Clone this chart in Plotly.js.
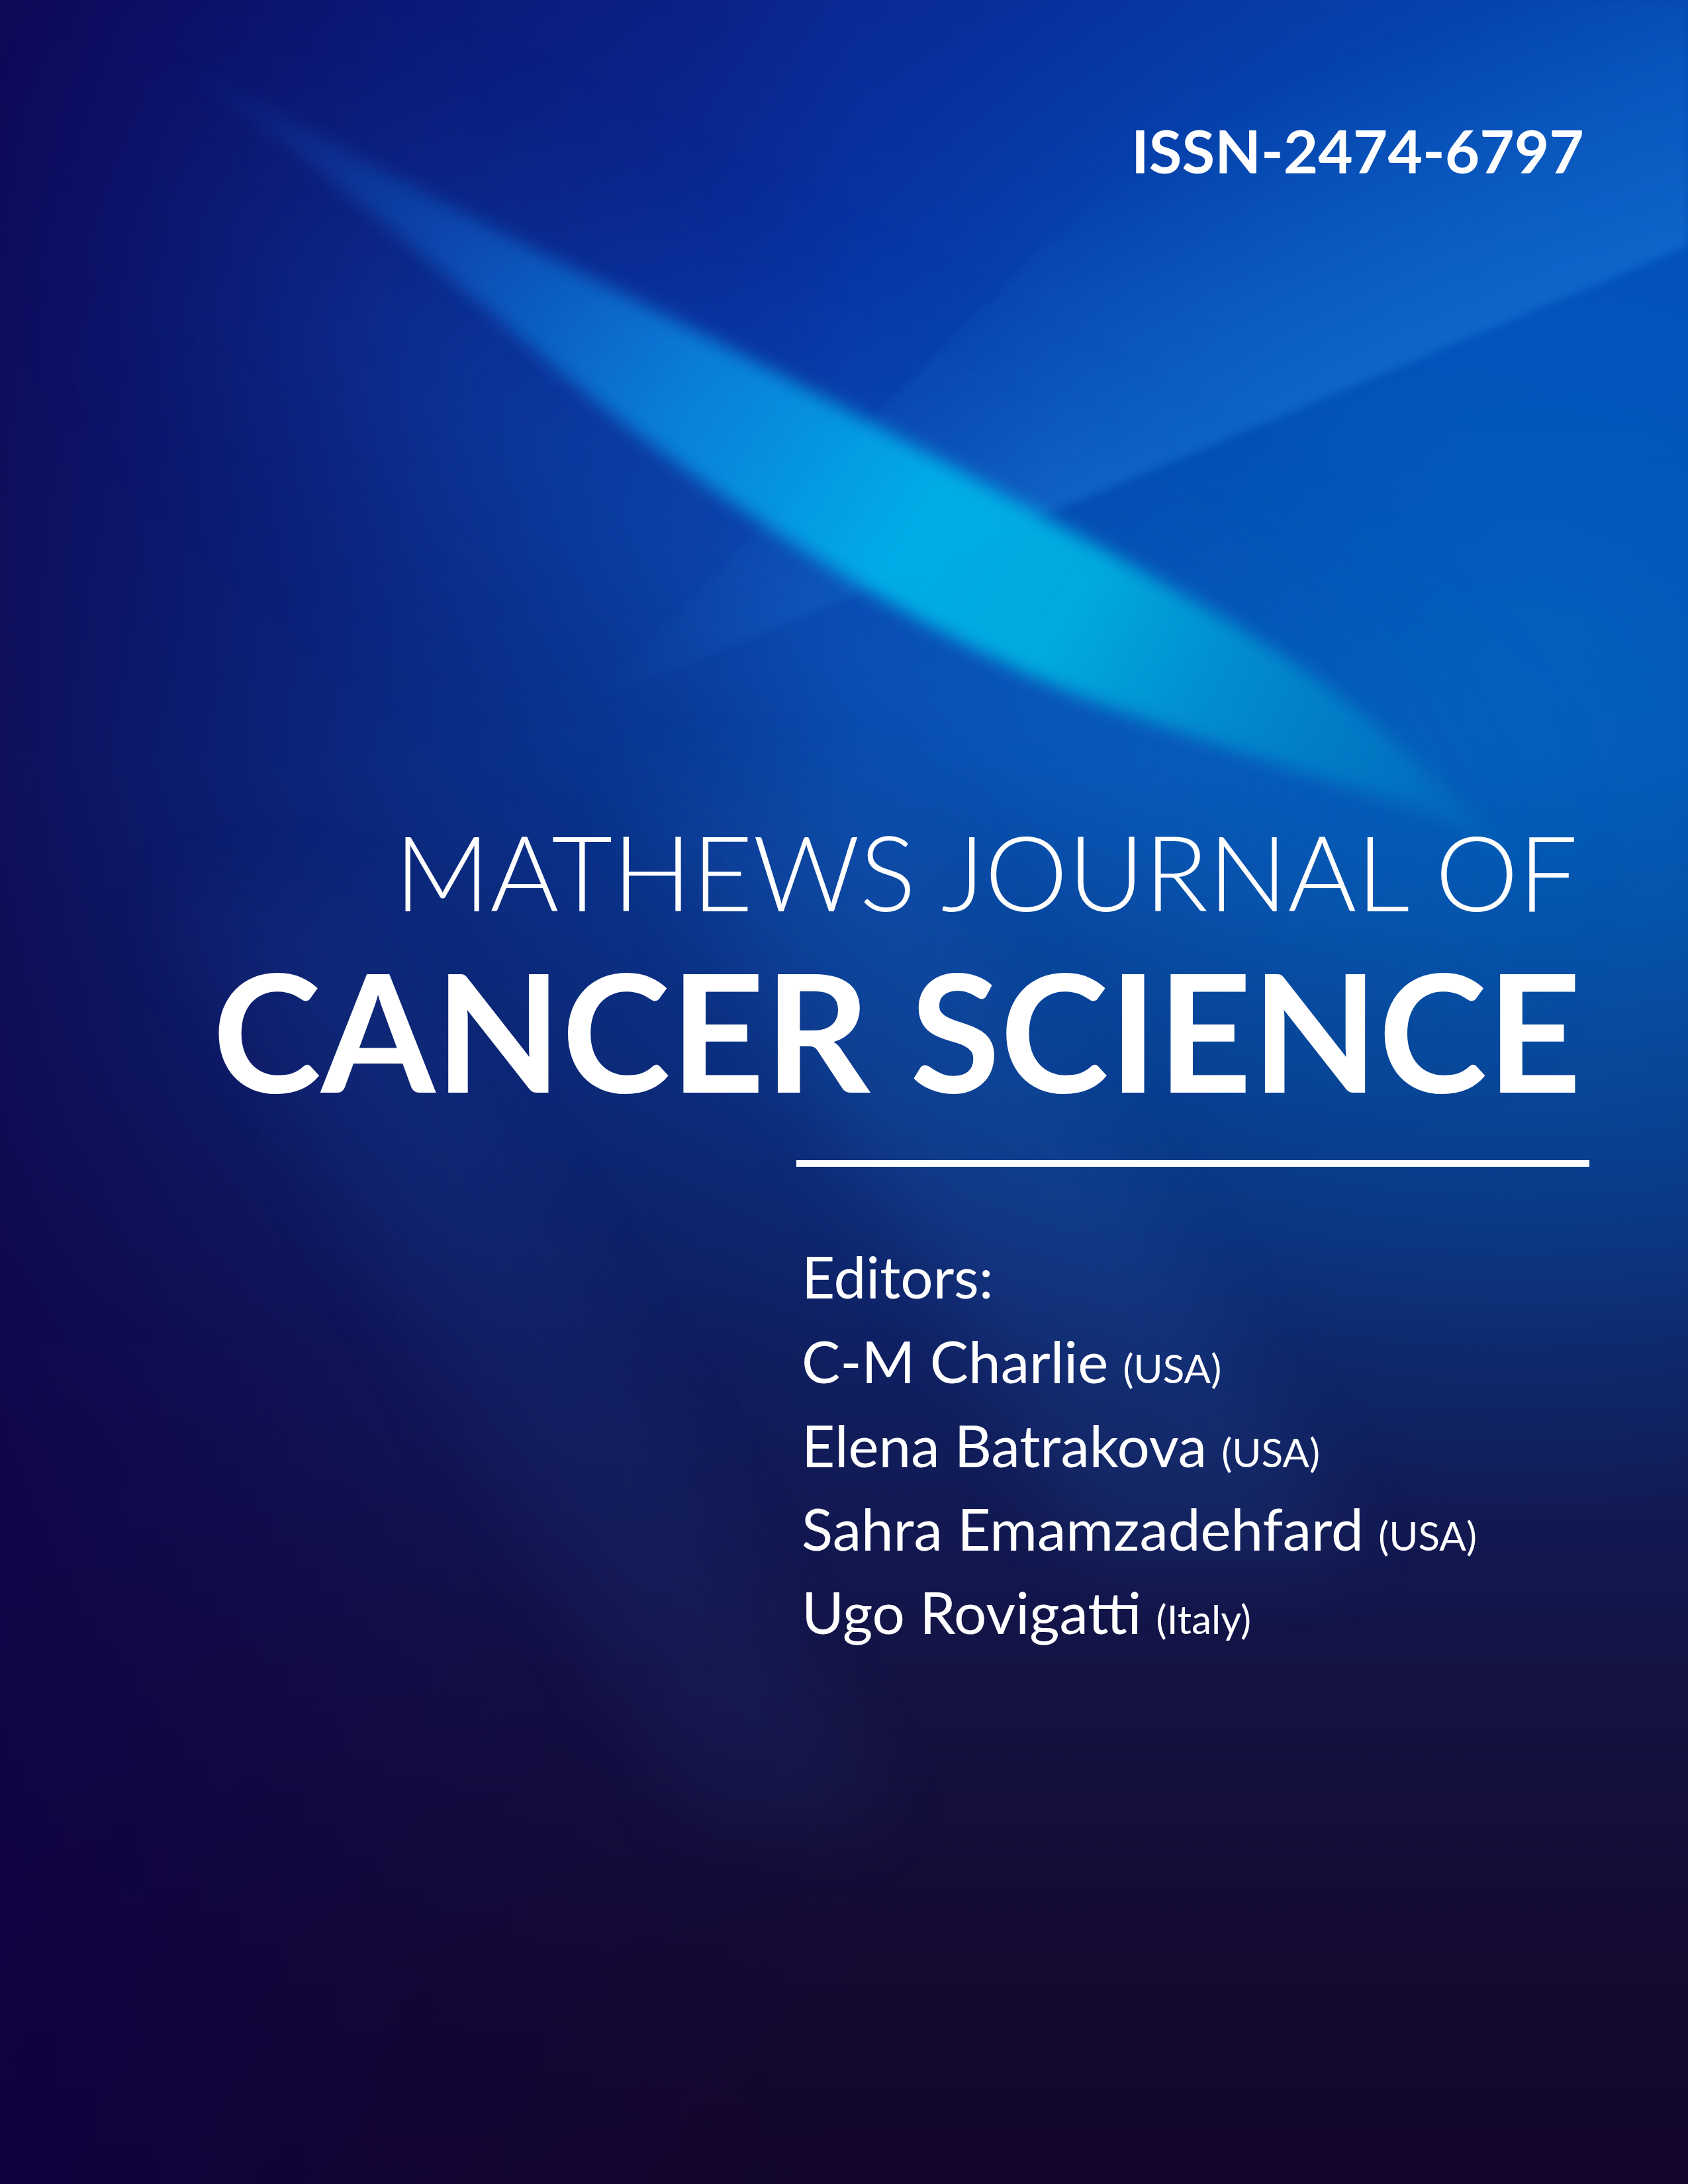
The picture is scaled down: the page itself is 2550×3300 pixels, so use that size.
<!DOCTYPE html>
<html>
<head>
<meta charset="utf-8">
<script src="https://cdn.plot.ly/plotly-3.0.1.min.js"></script>
<style>
  html, body { margin: 0; padding: 0; background: #14062a; }
  #cover { width: 2550px; height: 3300px; }
</style>
</head>
<body>
<div id="cover"></div>
<script>
// cover texts
const issnText = 'ISSN-2474-6797';
const titleLines = ['MATHEWS JOURNAL OF', 'CANCER SCIENCE'];
const editorsLabel = 'Editors:';
const editorNames = ['C-M Charlie', 'Elena Batrakova', 'Sahra Emamzadehfard', 'Ugo Rovigatti'];
const editorCountries = ['(USA)', '(USA)', '(USA)', '(Italy)'];

const W = 2550, H = 3300;
const FONT = 'Lato';

// paper coords from page pixels
const px = x => x / W;
const py = y => 1 - y / H;

/**
 * Font size that makes the text span the given pixel width
 */
function fitSize(text, weight, width) {
    const c = document.createElement('canvas').getContext('2d');
    c.font = `${weight} 100px ${FONT}`;
    return 100 * width / c.measureText(text).width;
}

// smooth path through a list of points
function smoothPath(g, pts) {
    g.lineTo(pts[0][0], pts[0][1]);
    for (let i = 1; i < pts.length - 1; i++) {
        const mx = (pts[i][0] + pts[i + 1][0]) / 2;
        const my = (pts[i][1] + pts[i + 1][1]) / 2;
        g.quadraticCurveTo(pts[i][0], pts[i][1], mx, my);
    }
    const last = pts[pts.length - 1];
    g.lineTo(last[0], last[1]);
}

/**
 * Soft blue background painted on a canvas, used as a layout image
 */
function paintBackground() {
    const s = 0.5;
    const cv = document.createElement('canvas');
    cv.width = W * s; cv.height = H * s;
    const g = cv.getContext('2d');
    g.scale(s, s);

    let lg = g.createLinearGradient(0, 0, 0, H);
    lg.addColorStop(0, '#0a2590');
    lg.addColorStop(0.15, '#0834a4');
    lg.addColorStop(0.35, '#0840a0');
    lg.addColorStop(0.5, '#0b3282');
    lg.addColorStop(0.62, '#102062');
    lg.addColorStop(0.76, '#141445');
    lg.addColorStop(0.9, '#150a32');
    lg.addColorStop(1, '#14062a');
    g.fillStyle = lg;
    g.fillRect(0, 0, W, H);

    // brighter top right
    let rg = g.createRadialGradient(2550, 100, 0, 2550, 100, 1500);
    rg.addColorStop(0, 'rgba(0,95,205,0.55)');
    rg.addColorStop(1, 'rgba(0,95,205,0)');
    g.fillStyle = rg;
    g.fillRect(0, 0, W, H);

    // teal glow on the right middle
    rg = g.createRadialGradient(2300, 1050, 0, 2300, 1050, 1250);
    rg.addColorStop(0, 'rgba(0,120,205,0.55)');
    rg.addColorStop(1, 'rgba(0,120,205,0)');
    g.fillStyle = rg;
    g.fillRect(0, 0, W, H);

    // darker left side
    lg = g.createLinearGradient(0, 0, 1300, 0);
    lg.addColorStop(0, 'rgba(16,0,70,0.75)');
    lg.addColorStop(0.5, 'rgba(16,0,70,0.3)');
    lg.addColorStop(1, 'rgba(16,0,70,0)');
    g.fillStyle = lg;
    g.fillRect(0, 0, W, H);

    // crossing band from the right edge: sharp lower edge, fades up and to the left
    const band = document.createElement('canvas');
    band.width = W; band.height = H;
    const b = band.getContext('2d');
    b.beginPath();
    b.moveTo(2650, 330);
    b.lineTo(880, 1070);
    b.lineTo(2650, -700);
    b.closePath();
    lg = b.createLinearGradient(1750, 700, 1570, 270);
    lg.addColorStop(0, 'rgba(40,145,235,0.32)');
    lg.addColorStop(1, 'rgba(40,145,235,0)');
    b.fillStyle = lg;
    b.fill();
    b.globalCompositeOperation = 'destination-in';
    lg = b.createLinearGradient(880, 0, 1600, 0);
    lg.addColorStop(0, 'rgba(0,0,0,0)');
    lg.addColorStop(1, 'rgba(0,0,0,1)');
    b.fillStyle = lg;
    b.fillRect(0, 0, W, H);
    g.save();
    g.filter = 'blur(3px)';
    g.drawImage(band, 0, 0, W, H);
    g.restore();

    const upper = [[250, 80], [650, 300], [1100, 523], [1624, 804], [2000, 1021], [2254, 1257], [2340, 1345]];
    const lower = [[2340, 1345], [2254, 1262], [2075, 1200], [1850, 1130], [1550, 1025], [1250, 860], [950, 650], [740, 470], [500, 270], [250, 80]];
    const lensPath = () => {
        g.beginPath();
        smoothPath(g, upper);
        smoothPath(g, lower);
        g.closePath();
    };

    // soft halo spilling to the lower left of the lens
    g.save();
    g.filter = 'blur(90px)';
    g.translate(-100, 110);
    lensPath();
    g.fillStyle = 'rgba(25,125,232,0.45)';
    g.fill();
    g.restore();

    // main cyan lens
    g.save();
    g.filter = 'blur(7px)';
    lensPath();
    lg = g.createLinearGradient(250, 80, 2340, 1345);
    lg.addColorStop(0, 'rgba(20,100,215,0)');
    lg.addColorStop(0.2, 'rgba(15,115,222,0.4)');
    lg.addColorStop(0.38, 'rgba(10,145,230,0.78)');
    lg.addColorStop(0.55, 'rgba(0,178,233,0.95)');
    lg.addColorStop(0.66, 'rgba(0,180,228,0.9)');
    lg.addColorStop(0.87, 'rgba(0,140,205,0.55)');
    lg.addColorStop(1, 'rgba(0,120,200,0.05)');
    g.fillStyle = lg;
    g.fill();
    g.restore();

    // faint beams lower down
    const beams = [
        [[950, 1200], [1350, 1200], [2050, 2350], [1650, 2350], 'rgba(40,120,210,0.14)'],
        [[250, 1350], [550, 1350], [1350, 2750], [1050, 2750], 'rgba(40,100,200,0.09)']
    ];
    beams.forEach(bm => {
        g.save();
        g.filter = 'blur(30px)';
        g.beginPath();
        g.moveTo(bm[0][0], bm[0][1]);
        g.lineTo(bm[1][0], bm[1][1]);
        g.lineTo(bm[2][0], bm[2][1]);
        g.lineTo(bm[3][0], bm[3][1]);
        g.closePath();
        g.fillStyle = bm[4];
        g.fill();
        g.restore();
    });

    return cv.toDataURL('image/png');
}

const issnSize = fitSize(issnText, 700, 684);
const topSize = fitSize(titleLines[0], 300, 1797);
const bigSize = fitSize(titleLines[1], 700, 2068);
const nameSize = fitSize(editorNames[2], 400, 849);
const countrySize = nameSize * 0.69;

// baselines in page pixels
const issnBase = 261;
const titleBase = [1374, 1647];
const editorBase = [1961, 2089, 2216, 2342, 2468];
const editorX = 1210;

const annotations = [];
const mid = (base, size) => base - 0.37 * size;

annotations.push({
    text: issnText, x: px(2394), y: py(mid(issnBase, issnSize)),
    xanchor: 'right', yanchor: 'middle',
    font: { family: FONT, size: issnSize, weight: 700, color: '#ffffff' }
});
annotations.push({
    text: titleLines[0], x: px(2384), y: py(mid(titleBase[0], topSize)),
    xanchor: 'right', yanchor: 'middle',
    font: { family: FONT, size: topSize, weight: 300, color: '#ffffff' }
});
annotations.push({
    text: titleLines[1], x: px(2390), y: py(mid(titleBase[1], bigSize)),
    xanchor: 'right', yanchor: 'middle',
    font: { family: FONT, size: bigSize, weight: 700, color: '#ffffff' }
});
annotations.push({
    text: editorsLabel, x: px(editorX), y: py(mid(editorBase[0], nameSize)),
    xanchor: 'left', yanchor: 'middle',
    font: { family: FONT, size: nameSize, weight: 400, color: '#ffffff' }
});
editorNames.forEach((name, i) => {
    annotations.push({
        text: `${name} <span style="font-size:${countrySize.toFixed(1)}px">${editorCountries[i]}</span>`,
        x: px(editorX), y: py(mid(editorBase[i + 1], nameSize)),
        xanchor: 'left', yanchor: 'middle', align: 'left',
        font: { family: FONT, size: nameSize, weight: 400, color: '#ffffff' }
    });
});
annotations.forEach(a => { a.xref = 'paper'; a.yref = 'paper'; a.showarrow = false; a.borderpad = 0; });

const layout = {
    width: W,
    height: H,
    margin: { l: 0, r: 0, t: 0, b: 0 },
    paper_bgcolor: '#14062a',
    plot_bgcolor: 'rgba(0,0,0,0)',
    xaxis: { visible: false, range: [0, 1], fixedrange: true },
    yaxis: { visible: false, range: [0, 1], fixedrange: true },
    showlegend: false,
    images: [{
        source: paintBackground(),
        xref: 'paper', yref: 'paper',
        x: 0, y: 1, sizex: 1, sizey: 1,
        xanchor: 'left', yanchor: 'top',
        sizing: 'stretch', layer: 'below'
    }],
    shapes: [{
        type: 'line', xref: 'paper', yref: 'paper',
        x0: px(1203), x1: px(2401), y0: py(1758), y1: py(1758),
        line: { color: '#ffffff', width: 10 }
    }],
    annotations: annotations
};

Plotly.newPlot('cover', [], layout, { displayModeBar: false, staticPlot: true });
</script>
</body>
</html>
